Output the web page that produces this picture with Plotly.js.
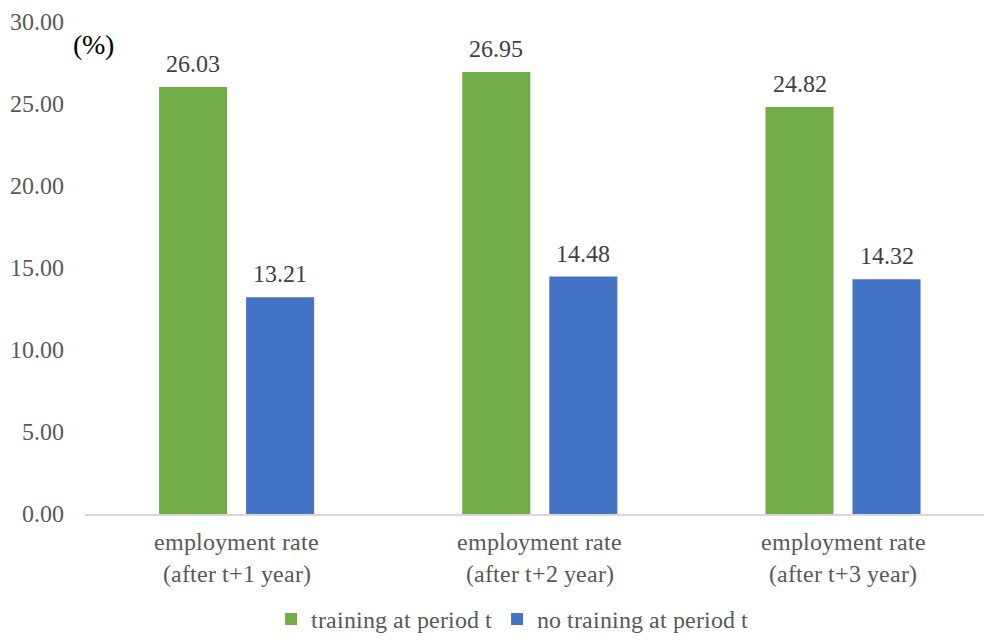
<!DOCTYPE html>
<html>
<head>
<meta charset="utf-8">
<script src="https://cdn.plot.ly/plotly-3.0.1.min.js"></script>
<style>
@font-face {
  font-family: "RefSerif";
  src: local("Liberation Serif"), local("LiberationSerif"), local("Liberation Serif Regular"), local("LiberationSerif-Regular");
  font-weight: normal; font-style: normal;
}
html,body{margin:0;padding:0;background:#fff;}
</style>
</head>
<body>
<div id="chart" style="width:984px;height:642px"></div>
<script>
const categories = ["employment rate<br>(after t+1 year)", "employment rate<br>(after t+2 year)", "employment rate<br>(after t+3 year)"];
const seriesNames = ["training at period t", "no training at period t"];
const trainingValues = [26.03, 26.95, 24.82];
const noTrainingValues = [13.21, 14.48, 14.32];
const yTickValues = [0, 5, 10, 15, 20, 25, 30];
const yTickLabels = ["0.00", "5.00", "10.00", "15.00", "20.00", "25.00", "30.00"];

function draw() {
  const fam = "RefSerif, Liberation Serif, serif";
  const traces = [
    {type: "bar", name: seriesNames[0], x: categories, y: trainingValues, marker: {color: "#70AD47"}, hoverinfo: "y"},
    {type: "bar", name: seriesNames[1], x: categories, y: noTrainingValues, marker: {color: "#4472C4"}, hoverinfo: "y"}
  ];
  const annotations = [];
  [trainingValues, noTrainingValues].forEach(function (vals, si) {
    vals.forEach(function (v, i) {
      annotations.push({
        x: categories[i], y: v, xref: "x", yref: "y",
        text: v.toFixed(2), showarrow: false,
        xshift: si === 0 ? -43.5 : 43.5, yanchor: "bottom", yshift: 8,
        font: {family: fam, size: 24, color: "#404040"}
      });
    });
  });
  annotations.push({
    xref: "paper", yref: "paper", x: -0.016, y: 0.9535, xanchor: "left", yanchor: "middle",
    text: "(%)", showarrow: false, font: {family: fam, size: 28, color: "#000000"}
  });
  return Plotly.react("chart", traces, {
    width: 984, height: 642,
    margin: {l: 85, r: 0, t: 22, b: 125},
    paper_bgcolor: "#ffffff", plot_bgcolor: "#ffffff",
    font: {family: fam, size: 24, color: "#595959"},
    barmode: "group", bargap: 0.426, bargroupgap: 0.218,
    xaxis: {
      type: "category", range: [-0.5, 2.465],
      showline: true, linecolor: "#d9d9d9", linewidth: 1.5,
      showgrid: false, ticks: "", ticklabelstandoff: 6, zeroline: false,
      tickfont: {family: fam, size: 24, color: "#595959"}
    },
    yaxis: {
      range: [0, 30], tickvals: yTickValues, ticktext: yTickLabels,
      showgrid: false, zeroline: false, showline: false, ticks: "",
      ticklabelstandoff: 20,
      tickfont: {family: fam, size: 24, color: "#595959"}
    },
    legend: {
      orientation: "h", x: 0.207, xanchor: "left", y: -0.214, yanchor: "middle",
      itemwidth: 30, traceorder: "normal",
      font: {family: fam, size: 24, color: "#595959"}
    },
    annotations: annotations,
    showlegend: true
  }, {staticPlot: true});
}

draw();
if (document.fonts && document.fonts.load) {
  Promise.all([
    document.fonts.load('24px "RefSerif"', "employment rate 0123456789.()%"),
    document.fonts.load('28px "RefSerif"', "(%)")
  ]).then(function () { return document.fonts.ready; })
    .then(function () { Plotly.purge("chart"); draw(); })
    .catch(function () {});
}
</script>
</body>
</html>
